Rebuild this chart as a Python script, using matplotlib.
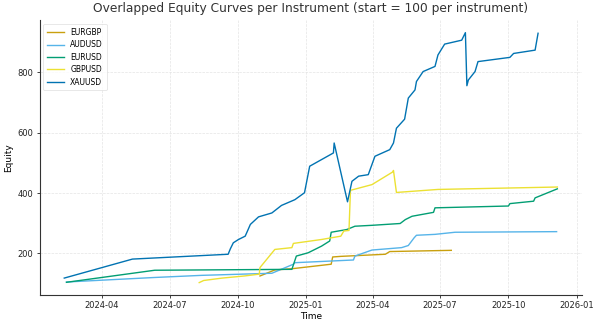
import pandas as pd
import matplotlib
matplotlib.use('Agg')
import matplotlib.pyplot as plt
import matplotlib.dates as mdates

# equity points (date, equity)
eurgbp_dates = ['2024-10-31', '2024-11-20', '2024-12-13', '2025-02-04', '2025-02-06', '2025-02-17',
                '2025-04-18', '2025-04-24', '2025-07-16']
eurgbp_vals = [125, 145, 149, 164, 188, 190, 197, 206, 210]

audusd_dates = ['2024-02-13', '2024-06-11', '2024-08-13', '2024-11-16', '2024-12-15', '2024-12-17',
                '2025-03-06', '2025-03-08', '2025-03-31', '2025-05-10', '2025-05-19', '2025-05-27',
                '2025-05-30', '2025-06-24', '2025-07-21', '2025-12-05']
audusd_vals = [105, 120, 127, 134, 164, 169, 178, 191, 211, 219, 226, 252, 260, 263, 270, 272]

eurusd_dates = ['2024-02-13', '2024-06-11', '2024-12-13', '2024-12-19', '2025-01-04', '2025-01-22',
                '2025-02-02', '2025-02-04', '2025-02-25', '2025-03-08', '2025-03-31', '2025-05-08',
                '2025-05-15', '2025-05-24', '2025-06-22', '2025-06-24', '2025-10-01', '2025-10-03',
                '2025-11-04', '2025-11-06', '2025-12-06']
eurusd_vals = [104, 144, 147, 191, 202, 224, 241, 270, 279, 290, 293, 299,
               312, 323, 336, 351, 357, 365, 373, 384, 414]

gbpusd_dates = ['2024-08-10', '2024-08-16', '2024-09-10', '2024-10-10', '2024-10-30', '2024-10-31',
                '2024-11-20', '2024-12-13', '2024-12-15', '2025-01-22', '2025-02-17', '2025-02-21',
                '2025-02-28', '2025-03-02', '2025-03-31', '2025-04-28', '2025-04-29', '2025-05-03',
                '2025-06-28', '2025-12-06']
gbpusd_vals = [103, 110, 118, 125, 131, 153, 213, 219, 233, 246, 257, 274,
               276, 409, 428, 470, 475, 402, 412, 420]

xauusd_dates = ['2024-02-10', '2024-05-12', '2024-09-18', '2024-09-21', '2024-09-25', '2024-10-02',
                '2024-10-11', '2024-10-13', '2024-10-18', '2024-10-29', '2024-11-16', '2024-11-29',
                '2024-12-17', '2024-12-30', '2025-01-06', '2025-02-07', '2025-02-08', '2025-02-26',
                '2025-03-04', '2025-03-13', '2025-03-26', '2025-04-04', '2025-04-24', '2025-04-29',
                '2025-05-03', '2025-05-14', '2025-05-19', '2025-05-28', '2025-05-30', '2025-06-08',
                '2025-06-24', '2025-06-28', '2025-07-07', '2025-07-30', '2025-08-04', '2025-08-06',
                '2025-08-08', '2025-08-17', '2025-08-21', '2025-10-03', '2025-10-08', '2025-11-06',
                '2025-11-10']
xauusd_vals = [118, 181, 197, 215, 235, 246, 257, 268, 296, 321, 334, 359,
               378, 401, 489, 533, 566, 371, 439, 456, 461, 522, 544, 566,
               615, 645, 715, 742, 770, 803, 820, 858, 894, 907, 932, 756,
               775, 803, 836, 850, 863, 874, 930]

series = [
    ('EURGBP', eurgbp_dates, eurgbp_vals, '#c9a00e'),
    ('AUDUSD', audusd_dates, audusd_vals, '#56b4e9'),
    ('EURUSD', eurusd_dates, eurusd_vals, '#029e73'),
    ('GBPUSD', gbpusd_dates, gbpusd_vals, '#ece133'),
    ('XAUUSD', xauusd_dates, xauusd_vals, '#0173b2'),
]

fig, ax = plt.subplots(figsize=(6, 3.25), dpi=100)
fig.subplots_adjust(left=0.066, right=0.97, bottom=0.092, top=0.938)

for name, d, v, c in series:
    ax.plot(pd.to_datetime(d), v, color=c, lw=1.0, label=name)

ax.set_title('Overlapped Equity Curves per Instrument (start = 100 per instrument)', fontsize=8.8, color='#333333')
ax.set_xlabel('Time', fontsize=6.5, labelpad=1)
ax.set_ylabel('Equity', fontsize=6.5, labelpad=3)

ax.xaxis.set_major_locator(mdates.MonthLocator(bymonth=[1, 4, 7, 10]))
ax.xaxis.set_major_formatter(mdates.DateFormatter('%Y-%m'))
ax.set_yticks([200, 400, 600, 800])
ax.tick_params(labelsize=6, length=2.5, width=0.6, pad=2, colors='#222222')

ax.grid(True, ls='--', lw=0.5, color='#e4e4e4')
for s in ['top', 'right']:
    ax.spines[s].set_visible(False)
for s in ['left', 'bottom']:
    ax.spines[s].set_linewidth(0.8)
    ax.spines[s].set_color('#333333')

leg = ax.legend(loc='upper left', fontsize=5.5, frameon=True, handlelength=2.2, borderpad=0.5,
                labelspacing=0.45, bbox_to_anchor=(0.0, 1.0))
leg.get_frame().set_edgecolor('#dddddd')
leg.get_frame().set_linewidth(0.6)

fig.savefig('out.png', dpi=100)
